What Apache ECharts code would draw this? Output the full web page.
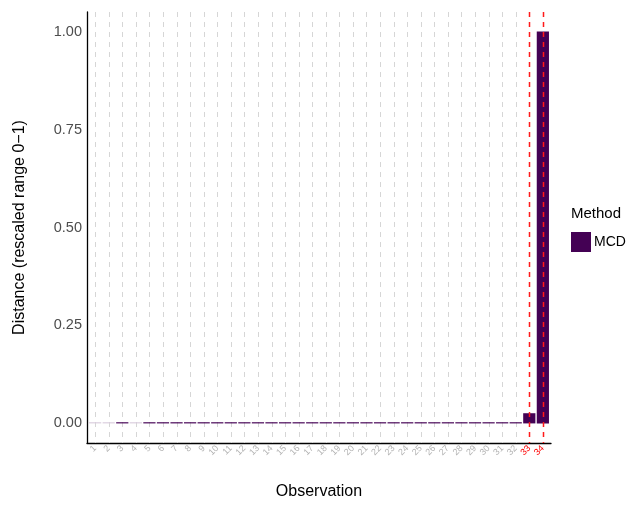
<!DOCTYPE html>
<html>
<head>
<meta charset="utf-8">
<script src="https://cdn.jsdelivr.net/npm/echarts@6/dist/echarts.min.js"></script>
<style>html,body{margin:0;padding:0;background:#fff;}#c{width:628px;height:505px;}</style>
</head>
<body>
<div id="c"></div>
<script>
const observations = [1,2,3,4,5,6,7,8,9,10,11,12,13,14,15,16,17,18,19,20,21,22,23,24,25,26,27,28,29,30,31,32,33,34];
const distances = [0.003,0.003,0.003,0.003,0.003,0.003,0.003,0.003,0.003,0.003,0.003,0.003,0.003,0.003,0.003,0.003,0.003,0.003,0.003,0.003,0.003,0.003,0.003,0.003,0.003,0.003,0.003,0.003,0.003,0.003,0.003,0.003,0.026,1.0];
const fadedObs = [1,2,4];
const outlierObs = [33,34];
const yTicks = [0,0.25,0.5,0.75,1];
const methodName = 'MCD';

const W = 628, H = 505;
const G = {left: 87, right: 77, top: 12, bottom: 57};
const xMin = 0.4, xMax = 34.6, yMin = -0.05, yMax = 1.05;
const unitPx = (W - G.left - G.right) / (xMax - xMin);
const barPx = 0.9 * unitPx;
const FONT = 'Liberation Sans, Arial, sans-serif';
const isOutlier = o => outlierObs.indexOf(o) >= 0;

function guideItem(params, api) {
  const x = api.value(0);
  const p0 = api.coord([x, yMin]);
  const p1 = api.coord([x, yMax]);
  const out = isOutlier(x);
  const px = Math.round(p0[0]) + 0.5;
  return {
    type: 'line',
    shape: {x1: px, y1: p1[1], x2: px, y2: p0[1]},
    style: {
      stroke: out ? '#ff1a1a' : '#d6d6d6',
      lineWidth: out ? 1.5 : 1,
      lineDash: [5, 5]
    }
  };
}

const chart = echarts.init(document.getElementById('c'), null, {renderer: 'canvas'});
chart.setOption({
  animation: false,
  backgroundColor: '#ffffff',
  textStyle: {fontFamily: FONT},
  title: {
    text: 'Method', left: 566, top: 201,
    textStyle: {fontSize: 15, fontWeight: 'normal', color: '#000', fontFamily: FONT}
  },
  legend: {
    left: 566, top: 227, icon: 'rect', itemWidth: 20, itemHeight: 20, itemGap: 4,
    data: [methodName],
    textStyle: {fontSize: 14, color: '#000', fontFamily: FONT, padding: [0,0,0,-2]}
  },
  grid: {left: G.left, right: G.right, top: G.top, bottom: G.bottom, containLabel: false},
  xAxis: {
    type: 'value', min: xMin, max: xMax,
    name: 'Observation', nameLocation: 'middle', nameGap: 41,
    nameTextStyle: {fontSize: 16, color: '#000', fontFamily: FONT},
    axisLine: {show: true, onZero: false, lineStyle: {color: '#000', width: 1.3}},
    axisTick: {show: false},
    splitLine: {show: false},
    axisLabel: {
      customValues: observations,
      showMinLabel: true, showMaxLabel: true, hideOverlap: false,
      rotate: 45, fontSize: 9, margin: 4, fontFamily: FONT, color: '#b3b3b3',
      formatter: v => isOutlier(v) ? '{r|' + v + '}' : String(v),
      rich: {r: {color: '#ff0000', fontSize: 9, fontFamily: FONT}}
    }
  },
  yAxis: {
    type: 'value', min: yMin, max: yMax,
    name: 'Distance (rescaled range 0\u22121)', nameLocation: 'middle', nameGap: 59,
    nameTextStyle: {fontSize: 16, color: '#000', fontFamily: FONT},
    axisLine: {show: true, onZero: false, lineStyle: {color: '#000', width: 1.3}},
    axisTick: {show: false},
    splitLine: {show: false},
    axisLabel: {customValues: yTicks, fontSize: 14.5, color: '#4d4d4d', margin: 5, fontFamily: FONT,
      formatter: v => v.toFixed(2)}
  },
  series: [{
    name: 'guides', type: 'custom', renderItem: guideItem, z: 1, silent: true,
    data: observations.filter(o => !isOutlier(o)).map(o => [o])
  }, {
    name: methodName, type: 'bar', barWidth: barPx, barMinHeight: 1,
    itemStyle: {color: '#440154'},
    data: observations.map((o, i) => ({
      value: [o, distances[i]],
      itemStyle: {color: fadedObs.indexOf(o) >= 0 ? '#dacddd' : '#440154'}
    })),
    z: 3
  }, {
    name: 'outlierGuides', type: 'custom', renderItem: guideItem, z: 4, silent: true,
    data: outlierObs.map(o => [o])
  }]
});
</script>
</body>
</html>
